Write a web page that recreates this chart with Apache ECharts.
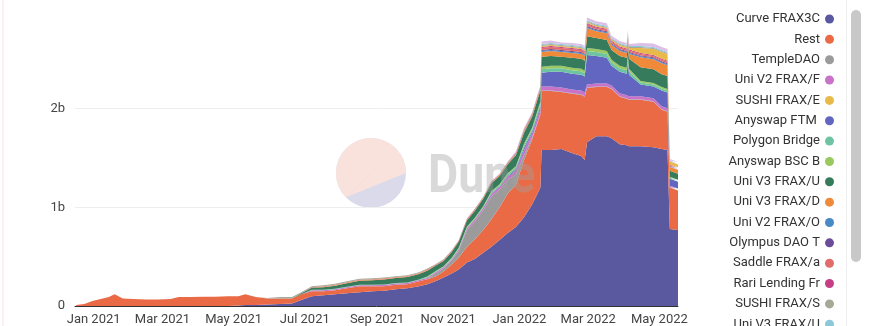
<!DOCTYPE html>
<html>
<head>
<meta charset="utf-8">
<title>FRAX holders</title>
<script src="https://cdn.jsdelivr.net/npm/echarts@6/dist/echarts.min.js"></script>
<style>
  html, body { margin: 0; padding: 0; background: #fff; }
  #first { width: 869px; height: 326px; }
</style>
</head>
<body>
<div id="first"></div>
<script>
  // values in billions, one entry per date
  const dates = [
    '2020-12-17', '2020-12-24', '2020-12-31', '2021-01-07', '2021-01-14', '2021-01-19', '2021-01-26', '2021-02-04', '2021-02-15', '2021-02-25',
    '2021-03-08', '2021-03-15', '2021-03-25', '2021-04-05', '2021-04-15', '2021-04-26', '2021-05-05', '2021-05-11', '2021-05-20', '2021-05-30',
    '2021-06-10', '2021-06-20', '2021-06-28', '2021-07-07', '2021-07-17', '2021-07-27', '2021-08-06', '2021-08-17', '2021-08-28', '2021-09-07',
    '2021-09-17', '2021-09-27', '2021-10-07', '2021-10-14', '2021-10-21', '2021-10-28', '2021-11-04', '2021-11-10', '2021-11-17', '2021-11-24',
    '2021-12-01', '2021-12-08', '2021-12-15', '2021-12-22', '2021-12-29', '2022-01-05', '2022-01-12', '2022-01-17', '2022-01-19', '2022-01-20',
    '2022-01-28', '2022-02-06', '2022-02-15', '2022-02-23', '2022-02-26', '2022-02-28', '2022-03-08', '2022-03-17', '2022-03-21', '2022-03-28',
    '2022-04-03', '2022-04-04', '2022-04-05', '2022-04-15', '2022-04-26', '2022-05-03', '2022-05-08', '2022-05-10', '2022-05-17'
  ]

  const curveFrax3crv = [
    0, 0, 0, 0, 0, 0, 0, 0, 0, 0,
    0, 0, 0, 0, 0, 0, 0.005, 0.01, 0.01, 0.015,
    0.02, 0.025, 0.06, 0.10, 0.11, 0.12, 0.13, 0.14, 0.15, 0.155,
    0.17, 0.18, 0.20, 0.22, 0.25, 0.29, 0.33, 0.37, 0.44, 0.48,
    0.54, 0.60, 0.67, 0.74, 0.80, 0.90, 1.03, 1.15, 1.20, 1.58,
    1.58, 1.59, 1.55, 1.52, 1.48, 1.66, 1.72, 1.72, 1.70, 1.64,
    1.63, 1.63, 1.62, 1.62, 1.61, 1.59, 1.58, 0.78, 0.77
  ]
  const rest = [
    0.01, 0.02, 0.05, 0.07, 0.09, 0.12, 0.075, 0.07, 0.065, 0.065,
    0.07, 0.09, 0.09, 0.095, 0.095, 0.10, 0.095, 0.11, 0.08, 0.06,
    0.055, 0.05, 0.06, 0.05, 0.04, 0.04, 0.05, 0.06, 0.05, 0.045,
    0.045, 0.04, 0.05, 0.05, 0.05, 0.06, 0.09, 0.12, 0.16, 0.20,
    0.23, 0.28, 0.33, 0.40, 0.43, 0.58, 0.66, 0.72, 0.74, 0.60,
    0.60, 0.58, 0.60, 0.62, 0.64, 0.55, 0.50, 0.50, 0.50, 0.48,
    0.47, 0.47, 0.47, 0.47, 0.46, 0.40, 0.39, 0.42, 0.40
  ]
  const templeDao = [
    0, 0, 0, 0, 0, 0, 0, 0, 0, 0,
    0, 0, 0, 0, 0, 0, 0, 0, 0, 0,
    0, 0, 0, 0, 0, 0, 0, 0, 0, 0,
    0, 0, 0, 0, 0.03, 0.03, 0.04, 0.07, 0.17, 0.18,
    0.20, 0.23, 0.18, 0.14, 0.10, 0.05, 0.02, 0.01, 0.01, 0.005,
    0.005, 0.005, 0.005, 0.005, 0.005, 0.005, 0.005, 0.005, 0.005, 0.005,
    0.005, 0.005, 0.005, 0.005, 0.005, 0.005, 0.005, 0.005, 0.005
  ]
  const uniV2FraxFxs = [
    0, 0, 0, 0, 0, 0, 0, 0, 0, 0,
    0, 0, 0, 0, 0, 0, 0, 0, 0, 0,
    0, 0, 0, 0.01, 0.01, 0.01, 0.01, 0.01, 0.01, 0.012,
    0.012, 0.012, 0.013, 0.015, 0.012, 0.012, 0.015, 0.016, 0.018, 0.02,
    0.022, 0.025, 0.025, 0.03, 0.04, 0.05, 0.04, 0.045, 0.045, 0.04,
    0.04, 0.04, 0.04, 0.04, 0.04, 0.03, 0.03, 0.03, 0.03, 0.03,
    0.03, 0.03, 0.03, 0.03, 0.03, 0.03, 0.03, 0.015, 0.015
  ]
  const anyswapFtm = [
    0, 0, 0, 0, 0, 0, 0, 0, 0, 0,
    0, 0, 0, 0, 0, 0, 0, 0, 0, 0,
    0, 0, 0, 0, 0, 0, 0, 0, 0, 0,
    0, 0, 0, 0, 0, 0, 0, 0, 0, 0,
    0, 0.005, 0.005, 0.008, 0.015, 0.025, 0.02, 0.025, 0.025, 0.14,
    0.15, 0.16, 0.16, 0.16, 0.16, 0.30, 0.28, 0.26, 0.20, 0.22,
    0.22, 0.35, 0.22, 0.12, 0.12, 0.16, 0.16, 0.07, 0.07
  ]
  const polygonBridge = [
    0, 0, 0, 0, 0, 0, 0, 0, 0, 0,
    0, 0, 0, 0, 0, 0, 0, 0, 0, 0,
    0, 0, 0, 0.005, 0.005, 0.005, 0.005, 0.005, 0.005, 0.006,
    0.006, 0.006, 0.006, 0.008, 0.006, 0.006, 0.008, 0.008, 0.008, 0.01,
    0.012, 0.015, 0.015, 0.018, 0.02, 0.025, 0.025, 0.03, 0.03, 0.035,
    0.035, 0.035, 0.035, 0.035, 0.035, 0.04, 0.04, 0.04, 0.035, 0.035,
    0.035, 0.035, 0.035, 0.02, 0.02, 0.02, 0.02, 0.01, 0.01
  ]
  const anyswapBsc = [
    0, 0, 0, 0, 0, 0, 0, 0, 0, 0,
    0, 0, 0, 0, 0, 0, 0, 0, 0, 0,
    0, 0, 0, 0, 0, 0, 0, 0, 0, 0,
    0, 0, 0, 0.005, 0.004, 0.004, 0.005, 0.006, 0.006, 0.007,
    0.008, 0.008, 0.008, 0.01, 0.012, 0.015, 0.015, 0.02, 0.02, 0.025,
    0.025, 0.025, 0.025, 0.025, 0.025, 0.03, 0.03, 0.03, 0.025, 0.025,
    0.025, 0.025, 0.025, 0.015, 0.015, 0.015, 0.015, 0.01, 0.01
  ]
  const uniV3FraxUsdc = [
    0, 0, 0, 0, 0, 0, 0, 0, 0, 0,
    0, 0, 0, 0, 0, 0, 0, 0, 0, 0,
    0, 0, 0.01, 0.02, 0.025, 0.03, 0.035, 0.04, 0.045, 0.05,
    0.05, 0.055, 0.055, 0.06, 0.055, 0.055, 0.06, 0.06, 0.065, 0.07,
    0.075, 0.08, 0.085, 0.09, 0.11, 0.11, 0.11, 0.11, 0.11, 0.10,
    0.10, 0.09, 0.10, 0.10, 0.10, 0.12, 0.11, 0.11, 0.10, 0.10,
    0.10, 0.10, 0.10, 0.14, 0.14, 0.13, 0.13, 0.06, 0.06
  ]
  const uniV3FraxDai = [
    0, 0, 0, 0, 0, 0, 0, 0, 0, 0,
    0, 0, 0, 0, 0, 0, 0, 0, 0, 0,
    0, 0, 0, 0, 0.005, 0.005, 0.005, 0.005, 0.005, 0.006,
    0.005, 0.005, 0.005, 0.006, 0.004, 0.004, 0.005, 0.005, 0.005, 0.006,
    0.006, 0.006, 0.006, 0.008, 0.01, 0.015, 0.015, 0.02, 0.02, 0.05,
    0.05, 0.05, 0.05, 0.05, 0.05, 0.08, 0.07, 0.07, 0.05, 0.05,
    0.05, 0.05, 0.05, 0.10, 0.10, 0.11, 0.11, 0.04, 0.04
  ]
  const uniV2FraxOhm = [
    0, 0, 0, 0, 0, 0, 0, 0, 0, 0,
    0, 0, 0, 0, 0, 0, 0, 0, 0, 0,
    0, 0, 0, 0, 0, 0, 0, 0, 0, 0,
    0, 0, 0, 0, 0, 0, 0, 0, 0, 0,
    0, 0, 0, 0, 0.005, 0.006, 0.005, 0.005, 0.005, 0.01,
    0.01, 0.01, 0.01, 0.01, 0.01, 0.01, 0.01, 0.01, 0.01, 0.01,
    0.01, 0.01, 0.01, 0.01, 0.01, 0.01, 0.01, 0.005, 0.005
  ]
  const olympusDao = [
    0, 0, 0, 0, 0, 0, 0, 0, 0, 0,
    0, 0, 0, 0, 0, 0, 0, 0, 0, 0,
    0, 0, 0, 0, 0, 0, 0, 0, 0, 0,
    0, 0, 0, 0, 0, 0, 0, 0, 0, 0,
    0, 0, 0, 0, 0, 0, 0, 0, 0, 0.01,
    0.01, 0.01, 0.01, 0.01, 0.01, 0.01, 0.01, 0.01, 0.01, 0.01,
    0.01, 0.01, 0.01, 0.01, 0.01, 0.01, 0.01, 0.005, 0.005
  ]
  const saddleFrax = [
    0, 0, 0, 0, 0, 0, 0, 0, 0, 0,
    0, 0, 0, 0, 0, 0, 0, 0, 0, 0,
    0, 0, 0, 0.005, 0.005, 0.005, 0.005, 0.005, 0.005, 0.006,
    0.005, 0.005, 0.005, 0.006, 0.004, 0.004, 0.005, 0.005, 0.005, 0.006,
    0.006, 0.006, 0.006, 0.006, 0.007, 0.008, 0.008, 0.008, 0.008, 0.02,
    0.02, 0.02, 0.02, 0.02, 0.02, 0.02, 0.015, 0.015, 0.015, 0.015,
    0.015, 0.015, 0.015, 0.015, 0.015, 0.015, 0.015, 0.01, 0.01
  ]
  const rariLending = [
    0, 0, 0, 0, 0, 0, 0, 0, 0, 0,
    0, 0, 0, 0, 0, 0, 0, 0, 0, 0,
    0, 0, 0, 0, 0, 0, 0, 0, 0, 0,
    0, 0, 0, 0.003, 0.003, 0.003, 0.003, 0.003, 0.004, 0.004,
    0.004, 0.004, 0.004, 0.005, 0.005, 0.006, 0.005, 0.005, 0.005, 0.01,
    0.01, 0.01, 0.01, 0.01, 0.01, 0.01, 0.01, 0.01, 0.01, 0.01,
    0.01, 0.01, 0.01, 0.01, 0.01, 0.01, 0.01, 0.005, 0.005
  ]
  const sushiFraxEth = [
    0, 0, 0, 0, 0, 0, 0, 0, 0, 0,
    0, 0, 0, 0, 0, 0, 0, 0, 0, 0,
    0, 0, 0, 0, 0, 0, 0, 0, 0, 0,
    0, 0, 0, 0, 0, 0, 0, 0, 0, 0,
    0, 0, 0, 0, 0, 0, 0, 0, 0, 0.01,
    0.01, 0.01, 0.01, 0.01, 0.01, 0.01, 0.01, 0.01, 0.01, 0.015,
    0.015, 0.015, 0.015, 0.05, 0.06, 0.07, 0.07, 0.03, 0.03
  ]
  const sushiFraxSushi = [
    0, 0, 0, 0, 0, 0, 0, 0, 0, 0,
    0, 0, 0, 0, 0, 0, 0, 0, 0, 0.005,
    0.015, 0.015, 0.01, 0.01, 0.01, 0.01, 0.01, 0.01, 0.01, 0.01,
    0.008, 0.008, 0.008, 0.008, 0.006, 0.006, 0.005, 0.004, 0.004, 0.004,
    0.004, 0.004, 0.004, 0.004, 0.004, 0.004, 0.004, 0.004, 0.004, 0.01,
    0.01, 0.01, 0.01, 0.01, 0.01, 0.01, 0.01, 0.01, 0.01, 0.01,
    0.01, 0.01, 0.01, 0.01, 0.01, 0.01, 0.01, 0.005, 0.005
  ]
  const uniV3FraxUsdt = [
    0, 0, 0, 0, 0, 0, 0, 0, 0, 0,
    0, 0, 0, 0, 0, 0, 0, 0, 0, 0,
    0, 0, 0, 0, 0, 0, 0, 0, 0, 0,
    0, 0, 0, 0, 0, 0, 0, 0, 0, 0,
    0, 0, 0, 0, 0, 0, 0, 0, 0, 0.01,
    0.01, 0.01, 0.01, 0.01, 0.01, 0.01, 0.01, 0.01, 0.01, 0.01,
    0.01, 0.01, 0.01, 0.01, 0.01, 0.01, 0.01, 0.005, 0.005
  ]
  const uniV3FraxFxs = [
    0, 0, 0, 0, 0, 0, 0, 0, 0, 0,
    0, 0, 0, 0, 0, 0, 0, 0, 0, 0,
    0, 0, 0, 0, 0, 0, 0, 0, 0, 0,
    0, 0, 0, 0, 0, 0, 0, 0, 0, 0,
    0, 0.005, 0.005, 0.006, 0.01, 0.012, 0.01, 0.01, 0.01, 0.025,
    0.025, 0.015, 0.02, 0.02, 0.02, 0.03, 0.025, 0.025, 0.02, 0.02,
    0.02, 0.02, 0.02, 0.03, 0.035, 0.03, 0.03, 0.015, 0.015
  ]

  // order shown in the legend (the stack order below differs)
  const legendNames = [
    'Curve FRAX3CRV', 'Rest', 'TempleDAO', 'Uni V2 FRAX/FXS', 'SUSHI FRAX/ETH', 'Anyswap FTM Bridge',
    'Polygon Bridge', 'Anyswap BSC Bridge', 'Uni V3 FRAX/USDC', 'Uni V3 FRAX/DAI', 'Uni V2 FRAX/OHM',
    'Olympus DAO Treasury', 'Saddle FRAX/alUSD', 'Rari Lending Frax', 'SUSHI FRAX/SUSHI', 'Uni V3 FRAX/USDT',
    'Uni V3 FRAX/FXS'
  ]

  const tickDates = ['2021-01-01', '2021-03-01', '2021-05-01', '2021-07-01', '2021-09-01', '2021-11-01', '2022-01-01', '2022-03-01', '2022-05-01']
  const tickLabels = ['Jan 2021', 'Mar 2021', 'May 2021', 'Jul 2021', 'Sep 2021', 'Nov 2021', 'Jan 2022', 'Mar 2022', 'May 2022']

  const toTime = (s) => {
    const p = s.split('-')
    return Date.UTC(+p[0], +p[1] - 1, +p[2])
  }
  const tickTimes = tickDates.map(toTime)
  const xMin = toTime('2020-12-16')
  const xMax = toTime('2022-05-17')

  // bottom of the stack first
  const layers = [
    { name: 'Curve FRAX3CRV', color: '#5a589f', values: curveFrax3crv },
    { name: 'Rest', color: '#ea6a45', values: rest },
    { name: 'TempleDAO', color: '#9b9b9b', values: templeDao },
    { name: 'Uni V2 FRAX/FXS', color: '#c872c8', values: uniV2FraxFxs },
    { name: 'Anyswap FTM Bridge', color: '#6266c0', values: anyswapFtm },
    { name: 'Polygon Bridge', color: '#6ec4a2', values: polygonBridge },
    { name: 'Anyswap BSC Bridge', color: '#9cc95f', values: anyswapBsc },
    { name: 'Uni V3 FRAX/USDC', color: '#357b5c', values: uniV3FraxUsdc },
    { name: 'Uni V3 FRAX/DAI', color: '#ef8a3a', values: uniV3FraxDai },
    { name: 'Uni V2 FRAX/OHM', color: '#4a8ac4', values: uniV2FraxOhm },
    { name: 'Olympus DAO Treasury', color: '#6a4c9b', values: olympusDao },
    { name: 'Saddle FRAX/alUSD', color: '#e06d6b', values: saddleFrax },
    { name: 'Rari Lending Frax', color: '#c63f86', values: rariLending },
    { name: 'SUSHI FRAX/ETH', color: '#e9b949', values: sushiFraxEth },
    { name: 'SUSHI FRAX/SUSHI', color: '#a6a898', values: sushiFraxSushi },
    { name: 'Uni V3 FRAX/USDT', color: '#8bc9d9', values: uniV3FraxUsdt },
    { name: 'Uni V3 FRAX/FXS', color: '#dcbfe6', values: uniV3FraxFxs }
  ]

  const font = 'Roboto'

  // watermark logo: lavender disc with a pink part above a slanted chord
  const logo = { cx: 371, cy: 173, r: 35, a0: 0, a1: 136 * Math.PI / 180 }
  const chordA = [logo.cx + logo.r * Math.cos(logo.a0), logo.cy + logo.r * Math.sin(logo.a0)]
  const chordB = [logo.cx + logo.r * Math.cos(logo.a1), logo.cy + logo.r * Math.sin(logo.a1)]

  const chart = echarts.init(document.getElementById('first'))
  const option = {
    animation: false,
    textStyle: { fontFamily: font },
    grid: { left: 75, right: 191, top: 10, bottom: 19 },
    legend: {
      orient: 'vertical',
      right: 30,
      top: 7,
      height: 2000,
      align: 'right',
      icon: 'circle',
      itemWidth: 9,
      itemHeight: 9,
      itemGap: 6.35,
      data: legendNames,
      textStyle: {
        fontFamily: font,
        fontSize: 13,
        lineHeight: 14,
        color: '#333',
        width: 93,
        overflow: 'truncate',
        ellipsis: ''
      }
    },
    xAxis: [
      {
        // time axis carries the stacked series
        type: 'time',
        position: 'bottom',
        min: xMin,
        max: xMax,
        axisLine: { show: true, onZero: false, lineStyle: { color: '#333', width: 1 } },
        axisTick: { show: false },
        axisLabel: { show: false },
        splitLine: { show: false }
      },
      {
        // same span as a value axis, only to put labels on month starts
        type: 'value',
        position: 'bottom',
        min: xMin,
        max: xMax,
        axisLine: { show: false },
        axisTick: { show: false },
        splitLine: { show: false },
        axisLabel: {
          customValues: tickTimes,
          color: '#444',
          fontSize: 13,
          margin: 7,
          hideOverlap: false,
          formatter: (v) => tickLabels[tickTimes.indexOf(v)]
        }
      }
    ],
    yAxis: {
      type: 'value',
      min: 0,
      max: 3,
      interval: 1,
      axisLine: { show: false },
      axisTick: { show: false },
      splitLine: { showMaxLine: false, lineStyle: { color: '#eeeeee' } },
      axisLabel: {
        showMaxLabel: false,
        color: '#444',
        fontSize: 13,
        margin: 10,
        formatter: (v) => (v === 0 ? '0' : v + 'b')
      }
    },
    graphic: [
      { type: 'line', z: 0, shape: { x1: 3, y1: 0, x2: 3, y2: 326 }, style: { stroke: '#f5e1e1', lineWidth: 1 } },
      { type: 'line', z: 0, shape: { x1: 846.5, y1: 0, x2: 846.5, y2: 326 }, style: { stroke: '#eeeeee', lineWidth: 1 } },
      { type: 'rect', z: 0, shape: { x: 851, y: 10, width: 10, height: 252, r: 5 }, style: { fill: '#c8c8c8' } },
      { type: 'circle', z: 0, shape: { cx: logo.cx, cy: logo.cy, r: logo.r }, style: { fill: '#dadaea' } },
      {
        type: 'sector', z: 0,
        shape: { cx: logo.cx, cy: logo.cy, r0: 0, r: logo.r, startAngle: logo.a1, endAngle: Math.PI * 2, clockwise: true },
        style: { fill: '#f9e2dc' }
      },
      {
        type: 'polygon', z: 0,
        shape: { points: [[logo.cx, logo.cy], chordA, chordB] },
        style: { fill: '#f9e2dc' }
      },
      {
        // watermark word sits over the areas, half see-through
        type: 'text', z: 100, x: 428, y: 178, scaleX: 0.86,
        style: { text: 'Dune', fill: 'rgba(160,160,160,0.4)', font: 'bold 54px Roboto', verticalAlign: 'middle' }
      }
    ],
    series: layers.map((l) => ({
      name: l.name,
      type: 'line',
      xAxisIndex: 0,
      stack: 'total',
      symbol: 'none',
      color: l.color,
      lineStyle: { width: 0 },
      areaStyle: { color: l.color, opacity: 1 },
      data: dates.map((d, i) => [toTime(d), l.values[i]])
    }))
  }
  chart.setOption(option)
</script>
</body>
</html>
